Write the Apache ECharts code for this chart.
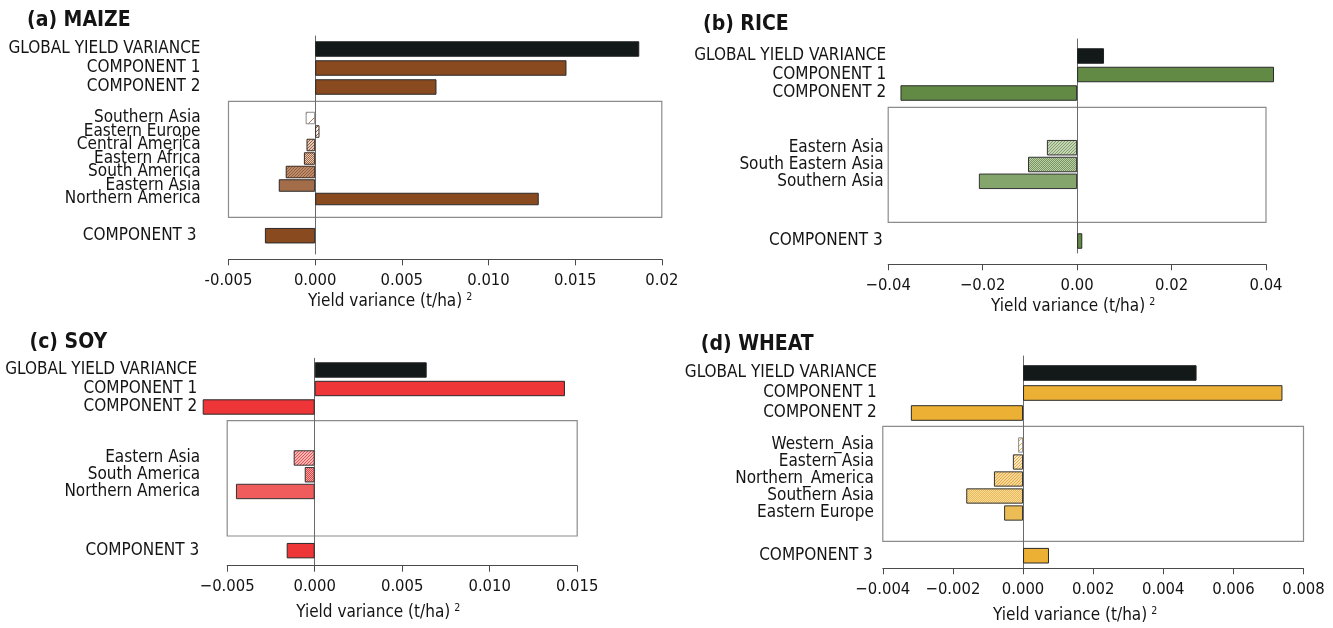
<!DOCTYPE html>
<html><head><meta charset="utf-8">
<script src="https://cdn.jsdelivr.net/npm/echarts@6/dist/echarts.min.js"></script>
<style>html,body{margin:0;padding:0;background:#fff}#c{width:1333px;height:628px}</style>
</head><body><div id="c"></div>
<script>
// ---------------- DATA ----------------
const mainLabels = ['GLOBAL YIELD VARIANCE', 'COMPONENT 1', 'COMPONENT 2'];
const comp3Labels = ['COMPONENT 3'];
const axisTitle = 'Yield variance (t/ha)';

const maizeMain = [0.0187, 0.0145, 0.0070];
const maizeRegionLabels = ['Southern Asia', 'Eastern Europe', 'Central America', 'Eastern Africa', 'South America', 'Eastern Asia', 'Northern America'];
const maizeRegion = [-0.00055, 0.00025, -0.0005, -0.00065, -0.0017, -0.0021, 0.0129];
const maizeComp3 = [-0.0029];
const maizeTicks = ['-0.005', '0.000', '0.005', '0.010', '0.015', '0.02'];

const riceMain = [0.0057, 0.0417, -0.0374];
const riceRegionLabels = ['Eastern Asia', 'South Eastern Asia', 'Southern Asia'];
const riceRegion = [-0.0064, -0.0104, -0.0208];
const riceComp3 = [0.0011];
const riceTicks = ['\u22120.04', '\u22120.02', '0.00', '0.02', '0.04'];

const soyMain = [0.0064, 0.0143, -0.0064];
const soyRegionLabels = ['Eastern Asia', 'South America', 'Northern America'];
const soyRegion = [-0.0012, -0.00057, -0.0045];
const soyComp3 = [-0.0016];
const soyTicks = ['\u22120.005', '0.000', '0.005', '0.010', '0.015'];

const wheatMain = [0.00495, 0.0074, -0.0032];
const wheatRegionLabels = ['Western_Asia', 'Eastern Asia', 'Northern_America', 'Southern Asia', 'Eastern Europe'];
const wheatRegion = [-0.00014, -0.00029, -0.00083, -0.00162, -0.00054];
const wheatComp3 = [0.00074];
const wheatTicks = ['\u22120.004', '\u22120.002', '0.000', '0.002', '0.004', '0.006', '0.008'];

// ---------------- STYLES ----------------
const FONT = '"DejaVu Sans Condensed", "DejaVu Sans", sans-serif';
const INK = '#141414';
const BLACK = '#131919';
const LABEL_SIZE = 17;

function hatch(bg, line, step, lw) {
  const s = step * 2;
  const c = document.createElement('canvas');
  c.width = s; c.height = s;
  const g = c.getContext('2d');
  g.fillStyle = bg; g.fillRect(0, 0, s, s);
  g.strokeStyle = line; g.lineWidth = lw;
  g.beginPath();
  for (let k = -2; k <= 2; k++) {
    const o = k * step;
    g.moveTo(o - 1, s + 1); g.lineTo(o + s + 1, -1);
  }
  g.stroke();
  return { image: c, repeat: 'repeat' };
}
function fillOf(spec) { return typeof spec === 'string' ? spec : hatch(spec[0], spec[1], spec[2], spec[3]); }

const maizeFill = [['#ffffff', '#b27352', 12, 1], ['#ffffff', '#a0603a', 4, 1], ['#fdf6f1', '#9a5a35', 3, 1.1], ['#e6cdbb', '#9a5a35', 2, 0.9], ['#c9a085', '#955a33', 3, 1.1], '#a46d49', '#8a4a1f'];
const maizeEdge = ['#8a8a8a', '#3a2a20', '#3a2a20', '#3a2a20', '#3a2a20', '#2a2a2a', '#2a2a2a'];
const riceFill = [['#e3ecd8', '#7d9c63', 3, 1.1], ['#bccfa8', '#6f8f56', 2, 0.9], '#84a56b'];
const riceEdge = ['#333', '#333', '#333'];
const soyFill = [['#fde2e2', '#e84a4a', 3, 1.1], ['#f6a3a3', '#e23c3c', 2, 0.9], '#f05c5c'];
const soyEdge = ['#333', '#333', '#333'];
const wheatFill = [['#ffffff', '#e8b040', 5, 1], ['#ffffff', '#e3a836', 3, 1.1], ['#fcebc6', '#e3a836', 3, 1.1], ['#f8dc9f', '#e9b448', 2, 0.9], '#edbd55'];
const wheatEdge = ['#8a8a8a', '#333', '#333', '#333', '#333'];

// ---------------- LAYOUT ----------------
const panels = [
  { title: '(a) MAIZE', tx: 27, ty: 10, color: '#8a4a1f', min: -0.005, max: 0.02, interval: 0.005, ticks: maizeTicks,
    left: 228.5, right: 1333 - 661.8, zeroTop: 36, zeroBottom: 254, axisY: 259.3, nameGap: 42, nameShift: 55,
    top: [39.5, 57], box: [101.3, 116], region: [111.25, 94.5], comp3: [226.2, 19], mainW: 15.5, regW: 12.5,
    mTop: 28, mReg: 28, mC3: 32,
    main: maizeMain, regLabels: maizeRegionLabels, reg: maizeRegion, c3: maizeComp3, fill: maizeFill, edge: maizeEdge },
  { title: '(b) RICE', tx: 703, ty: 14, color: '#628a45', min: -0.04, max: 0.04, interval: 0.02, ticks: riceTicks,
    left: 888.2, right: 1333 - 1266, zeroTop: 39, zeroBottom: 253, axisY: 264.3, nameGap: 42, nameShift: 4,
    top: [46.75, 55.5], box: [107.3, 115], region: [139.3, 50.4], comp3: [231.75, 18.5], mainW: 15.5, regW: 15.5,
    mTop: 2, mReg: 4.5, mC3: 5.5,
    main: riceMain, regLabels: riceRegionLabels, reg: riceRegion, c3: riceComp3, fill: riceFill, edge: riceEdge },
  { title: '(c) SOY', tx: 29.5, ty: 332, color: '#ee3537', min: -0.005, max: 0.015, interval: 0.005, ticks: soyTicks,
    left: 227.2, right: 1333 - 577.2, zeroTop: 358.3, zeroBottom: 565.7, axisY: 565.7, nameGap: 47, nameShift: 24,
    top: [360.75, 55.5], box: [420.7, 115.3], region: [449.6, 50.25], comp3: [541.4, 18.5], mainW: 15.4, regW: 15.4,
    mTop: 30, mReg: 27, mC3: 28,
    main: soyMain, regLabels: soyRegionLabels, reg: soyRegion, c3: soyComp3, fill: soyFill, edge: soyEdge },
  { title: '(d) WHEAT', tx: 700.8, ty: 334, color: '#ecb034', min: -0.004, max: 0.008, interval: 0.002, ticks: wheatTicks,
    left: 882.8, right: 1333 - 1303.5, zeroTop: 356, zeroBottom: 568.3, axisY: 568.3, nameGap: 47, nameShift: 18,
    top: [363, 60], box: [426.3, 115], region: [436.5, 85], comp3: [546.2, 19], mainW: 15.6, regW: 15.3,
    mTop: 6, mReg: 9, mC3: 10,
    main: wheatMain, regLabels: wheatRegionLabels, reg: wheatRegion, c3: wheatComp3, fill: wheatFill, edge: wheatEdge }
];

const grids = [], xAxes = [], yAxes = [], series = [], titles = [];

panels.forEach(p => {
  titles.push({ text: p.title, left: p.tx, top: p.ty, padding: 0,
    textStyle: { fontFamily: FONT, fontWeight: 'bold', fontSize: 21, color: INK } });

  // base grid: x axis + zero line
  let g = grids.length;
  grids.push({ left: p.left, right: p.right, top: p.zeroTop, height: p.zeroBottom - p.zeroTop, show: false, containLabel: false, outerBoundsMode: 'none' });
  xAxes.push({ gridIndex: g, type: 'value', min: p.min, max: p.max, interval: p.interval, position: 'bottom',
    offset: p.axisY - p.zeroBottom,
    axisLine: { show: true, onZero: false, lineStyle: { color: '#4a4a4a', width: 1 } },
    axisTick: { show: true, length: 6, lineStyle: { color: '#4a4a4a', width: 1 } },
    splitLine: { show: false },
    axisLabel: { fontFamily: FONT, fontSize: 16.5, color: INK, margin: 21, verticalAlign: 'middle',
      formatter: v => p.ticks[Math.round((v - p.min) / p.interval)] },
    name: '{t|' + axisTitle + '}{s|2}', nameLocation: 'middle', nameGap: p.nameGap,
    nameTextStyle: { fontFamily: FONT, color: INK, verticalAlign: 'middle', padding: [0, p.nameShift * 2, 0, 0],
      rich: { t: { fontFamily: FONT, fontSize: 17, color: INK, lineHeight: 19 },
              s: { fontFamily: FONT, fontSize: 10.5, color: INK, verticalAlign: 'top', lineHeight: 10, padding: [0, 0, 0, 4] } } } });
  yAxes.push({ gridIndex: g, type: 'value', min: 0, max: 1,
    axisLine: { show: true, onZero: true, lineStyle: { color: '#6a6a6a', width: 1 } },
    axisTick: { show: false }, axisLabel: { show: false }, splitLine: { show: false } });

  // box grid
  g = grids.length;
  grids.push({ left: p.left, right: p.right, top: p.box[0], height: p.box[1], show: true,
    borderColor: '#8c8c8c', borderWidth: 1.2, backgroundColor: 'transparent', containLabel: false, outerBoundsMode: 'none' });
  xAxes.push({ gridIndex: g, type: 'value', min: p.min, max: p.max, show: false });
  yAxes.push({ gridIndex: g, type: 'value', min: 0, max: 1, show: false });

  // bar grids
  const groups = [
    { pos: p.top, labels: mainLabels, vals: p.main, w: p.mainW, m: p.mTop,
      fill: [BLACK, p.color, p.color], edge: ['#222', '#2a2a2a', '#2a2a2a'] },
    { pos: p.region, labels: p.regLabels, vals: p.reg, w: p.regW, m: p.mReg, fill: p.fill, edge: p.edge },
    { pos: p.comp3, labels: comp3Labels, vals: p.c3, w: p.mainW, m: p.mC3, fill: [p.color], edge: ['#2a2a2a'] }
  ];
  groups.forEach(gr => {
    const gi = grids.length;
    grids.push({ left: p.left, right: p.right, top: gr.pos[0], height: gr.pos[1], show: false, containLabel: false, outerBoundsMode: 'none' });
    const xi = xAxes.length, yi = yAxes.length;
    xAxes.push({ gridIndex: gi, type: 'value', min: p.min, max: p.max, show: false });
    yAxes.push({ gridIndex: gi, type: 'category', data: gr.labels, inverse: true,
      axisLine: { show: false, onZero: false }, axisTick: { show: false }, splitLine: { show: false },
      axisLabel: { fontFamily: FONT, fontSize: LABEL_SIZE, color: INK, margin: gr.m, interval: 0 } });
    series.push({ type: 'bar', xAxisIndex: xi, yAxisIndex: yi, barWidth: gr.w, clip: false, silent: true,
      data: gr.vals.map((v, i) => ({ value: v, itemStyle: { color: fillOf(gr.fill[i]), borderColor: gr.edge[i], borderWidth: 1 } })) });
  });
});

const chart = echarts.init(document.getElementById('c'), null, { renderer: 'canvas' });
chart.setOption({ animation: false, backgroundColor: '#ffffff', title: titles, grid: grids, xAxis: xAxes, yAxis: yAxes, series: series });
</script></body></html>
